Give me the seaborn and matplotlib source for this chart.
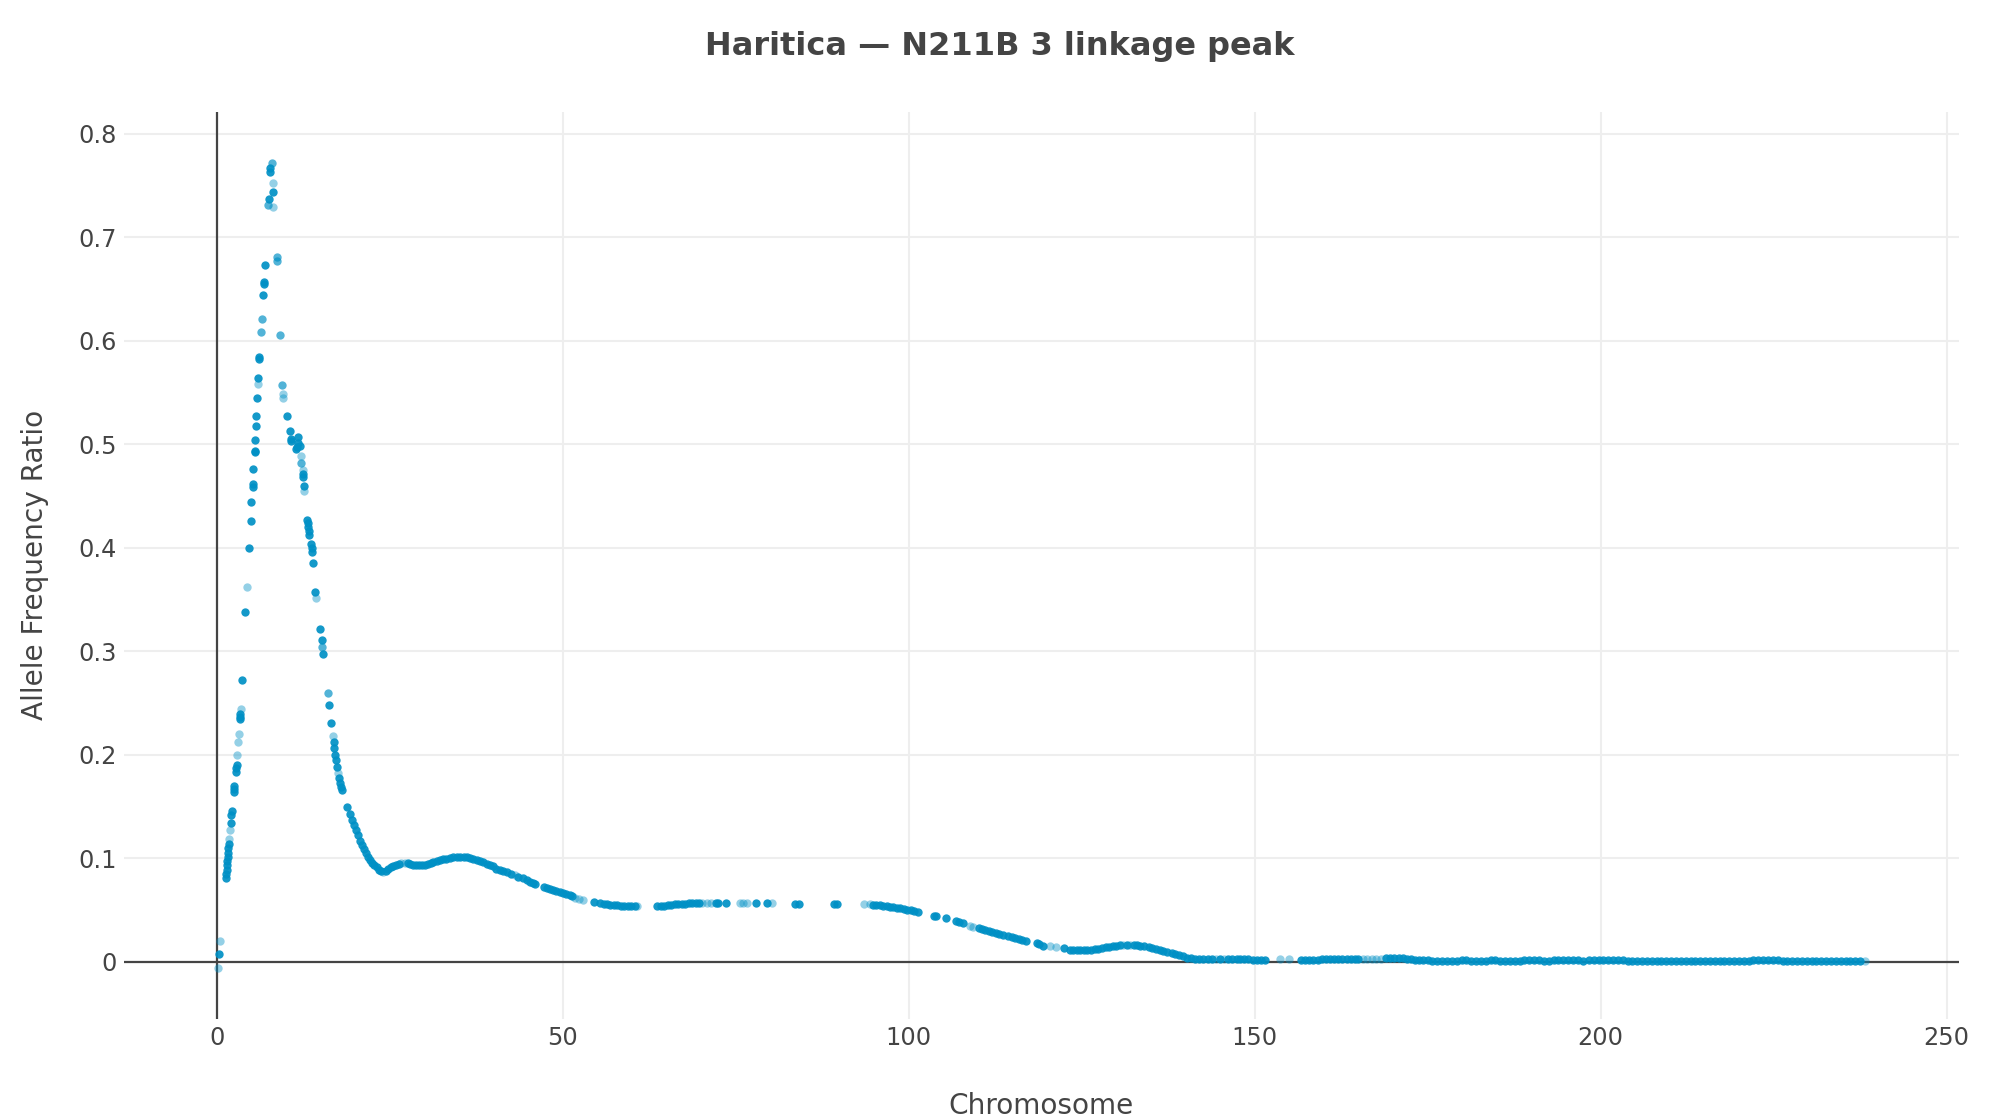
"""
Allele frequency ratio along the chromosome - linkage peak scatter.
"""

###########
# IMPORTS #
###########
import seaborn as sns
import matplotlib.pyplot as plt


########
# DATA #
########

# Peak region (0 - 18 cM), dark points
peak_x = [0.32, 1.33, 1.38, 1.43, 1.48, 1.53, 1.58, 1.63, 1.68, 1.72,
          2.0, 2.12, 2.15, 2.43, 2.45, 2.47, 2.82, 2.85, 2.88, 3.40, 3.42, 3.43,
          3.64, 4.12, 4.65, 4.9, 5.0, 5.18, 5.2, 5.28, 5.5, 5.52, 5.57, 5.69,
          5.71, 5.86, 6.0, 6.15, 6.16, 6.75, 6.78, 6.8, 6.92, 7.5, 7.74, 7.76,
          8.17, 10.1, 10.58, 10.75, 10.78, 11.5, 11.55, 11.78, 11.8, 12.1,
          12.42, 12.45, 12.6, 13.1, 13.15, 13.2, 13.3, 13.4, 13.6, 13.7, 13.8,
          13.85, 14.27, 14.92, 15.16, 15.35, 16.26, 16.5, 16.9, 17.0, 17.1,
          17.2, 17.35, 17.65, 17.8, 17.95, 18.1]
peak_y = [0.0074, 0.081, 0.085, 0.089, 0.093, 0.097, 0.101, 0.105, 0.110, 0.114,
          0.134, 0.142, 0.146, 0.164, 0.167, 0.170, 0.183, 0.187, 0.190, 0.234, 0.236, 0.239,
          0.272, 0.338, 0.400, 0.426, 0.4445, 0.459, 0.462, 0.476, 0.492, 0.4934, 0.504, 0.518,
          0.527, 0.545, 0.564, 0.582, 0.584, 0.644, 0.6545, 0.657, 0.673, 0.737, 0.763, 0.7665,
          0.744, 0.527, 0.513, 0.505, 0.503, 0.495, 0.497, 0.507, 0.501, 0.498,
          0.471, 0.4686, 0.4596, 0.427, 0.424, 0.420, 0.416, 0.412, 0.404, 0.400, 0.396,
          0.3855, 0.3575, 0.321, 0.311, 0.2973, 0.248, 0.231, 0.212, 0.206, 0.200,
          0.195, 0.188, 0.177, 0.173, 0.169, 0.166]

# Peak region, half-transparent points
mid_x = [6.4, 6.49, 7.4, 7.98, 8.67, 8.7, 9.14, 9.47, 12.25, 15.2, 16.03]
mid_y = [0.608, 0.621, 0.731, 0.772, 0.681, 0.677, 0.606, 0.5575, 0.4815, 0.3043, 0.2593]

# Shoulder (19 - 46 cM)
shoulder_x = [18.9, 19.2, 19.5, 19.8, 20.1, 20.4, 20.7, 21.0, 21.3, 21.6, 21.9, 22.2,
              22.5, 22.8, 23.1, 23.4, 23.7, 24.4, 24.8, 25.2, 25.5, 25.9, 26.3, 27.6,
              28.0, 28.4, 28.8, 29.2, 29.6, 30.1, 30.5, 30.9, 31.3, 31.8, 32.2, 32.7,
              33.2, 33.7, 34.2, 34.7, 35.2, 35.7, 36.2, 36.6, 37.1, 37.6, 38.05, 38.5,
              39.0, 39.5, 39.97, 40.4, 40.9, 41.4, 41.9, 42.5, 43.6, 44.3, 44.8, 45.3,
              45.7, 46.0]
shoulder_y = [0.149, 0.143, 0.137, 0.132, 0.127, 0.122, 0.117, 0.113, 0.109, 0.105, 0.101, 0.098,
              0.095, 0.093, 0.091, 0.089, 0.088, 0.088, 0.090, 0.091, 0.092, 0.093, 0.094, 0.095,
              0.094, 0.093, 0.093, 0.093, 0.093, 0.093, 0.094, 0.095, 0.096, 0.097, 0.098, 0.099,
              0.0995, 0.100, 0.101, 0.1015, 0.1015, 0.1015, 0.101, 0.100, 0.099, 0.098, 0.097, 0.096,
              0.094, 0.093, 0.092, 0.090, 0.089, 0.088, 0.087, 0.085, 0.082, 0.081, 0.079, 0.077,
              0.076, 0.075]

# Plateau (47 - 90 cM)
plateau_x = [47.3, 47.7, 48.2, 48.6, 49.1, 49.6, 50.0, 50.5, 51.0, 51.3, 54.5, 55.4,
             55.9, 56.4, 56.9, 57.4, 57.9, 58.4, 58.9, 59.4, 59.9, 60.4, 63.7, 64.2,
             64.7, 65.2, 65.7, 66.2, 66.7, 67.2, 67.7, 68.2, 68.7, 69.2, 69.7, 72.1,
             72.5, 73.6, 77.9, 79.6, 83.6, 84.1, 89.2, 89.6]
plateau_y = [0.072, 0.071, 0.070, 0.069, 0.068, 0.067, 0.066, 0.065, 0.064, 0.063, 0.058, 0.0565,
             0.056, 0.0557, 0.055, 0.0548, 0.0545, 0.054, 0.054, 0.0538, 0.0538, 0.0538, 0.0538, 0.054,
             0.0542, 0.0545, 0.055, 0.0553, 0.0556, 0.056, 0.0562, 0.0565, 0.0567, 0.0568, 0.057, 0.057,
             0.057, 0.057, 0.057, 0.057, 0.056, 0.056, 0.0557, 0.0557]

# Decline and second bump (94 - 140 cM)
decline_x = [94.8, 95.3, 95.8, 96.3, 96.8, 97.3, 97.8, 98.3, 98.8, 99.3, 99.8, 100.3,
             100.8, 101.3, 103.6, 104.0, 105.4, 106.9, 107.3, 107.8, 110.1, 110.6, 111.1, 111.6,
             112.1, 112.6, 113.1, 113.6, 114.4, 114.9, 115.4, 115.9, 116.4, 116.9, 118.5, 118.9,
             119.4, 122.4, 123.3, 123.8, 124.3, 124.8, 125.3, 125.8, 126.3, 126.9, 127.4, 127.9,
             128.5, 129.0, 129.5, 130.0, 130.5, 131.5, 132.5, 133.0, 133.5, 134.0, 134.7, 135.2,
             135.7, 136.3, 136.8, 137.4, 138.0, 138.5, 139.0, 139.6]
decline_y = [0.0550, 0.0546, 0.0543, 0.054, 0.0535, 0.053, 0.0525, 0.052, 0.0515, 0.051, 0.050, 0.0495,
             0.049, 0.048, 0.0445, 0.044, 0.042, 0.039, 0.0385, 0.037, 0.0325, 0.032, 0.031, 0.030,
             0.029, 0.028, 0.027, 0.026, 0.0245, 0.0235, 0.0225, 0.022, 0.021, 0.020, 0.018, 0.017,
             0.0155, 0.013, 0.0115, 0.011, 0.011, 0.011, 0.011, 0.0112, 0.0115, 0.012, 0.0125, 0.013,
             0.014, 0.0145, 0.015, 0.0155, 0.016, 0.0165, 0.0163, 0.016, 0.0155, 0.015, 0.0145, 0.0135,
             0.0125, 0.0113, 0.010, 0.009, 0.008, 0.007, 0.006, 0.005]

# Tail near zero (140 - 175 cM)
tail_x = [140.2, 140.8, 141.4, 142.0, 142.6, 143.2, 143.8, 145.0, 146.2, 146.8, 147.4, 147.9,
          148.5, 149.1, 149.7, 150.3, 150.9, 151.5, 156.7, 157.3, 157.9, 158.5, 159.1, 159.7,
          160.3, 160.9, 161.5, 162.1, 162.7, 163.3, 163.9, 164.5, 165.0, 169.0, 169.6, 170.2,
          170.8, 171.4, 172.0, 172.6, 173.2, 173.8, 174.4]
tail_y = [0.004, 0.0033, 0.003, 0.0027, 0.0025, 0.0025, 0.0025, 0.0025, 0.0025, 0.0022, 0.0022, 0.0022,
          0.0022, 0.0022, 0.002, 0.002, 0.002, 0.0018, 0.002, 0.002, 0.002, 0.002, 0.002, 0.0022,
          0.0022, 0.0025, 0.0025, 0.0028, 0.003, 0.003, 0.0028, 0.0025, 0.0025, 0.0035, 0.004, 0.004,
          0.0038, 0.0035, 0.003, 0.0025, 0.002, 0.0015, 0.0012]

# Flat end (175 - 238 cM)
end_x = [175.0, 175.7, 176.4, 177.1, 177.8, 178.5, 179.2, 179.9, 180.6, 181.3, 182.0, 182.7,
         183.4, 184.1, 184.8, 185.5, 186.2, 186.9, 187.6, 188.3, 189.0, 189.7, 190.4, 191.1,
         191.8, 192.5, 193.2, 193.9, 194.6, 195.3, 196.0, 196.7, 197.4, 198.3, 199.0, 199.7,
         200.4, 201.1, 201.8, 202.5, 203.2, 203.9, 204.6, 205.3, 206.0, 206.7, 207.4, 208.1,
         208.8, 209.5, 210.2, 210.9, 211.6, 212.3, 213.0, 213.7, 214.4, 215.1, 215.8, 216.5,
         217.2, 217.9, 218.6, 219.3, 220.0, 220.7, 221.4, 222.1, 222.8, 223.5, 224.2, 224.9,
         225.6, 226.3, 227.0, 227.7, 228.4, 229.1, 229.8, 230.5, 231.2, 231.9, 232.6, 233.3,
         234.0, 234.7, 235.4, 236.1, 236.8, 237.5]
end_y = [0.0012, 0.001, 0.001, 0.0008, 0.0008, 0.001, 0.001, 0.0012, 0.0012, 0.001, 0.0008, 0.0008,
         0.001, 0.0012, 0.0012, 0.001, 0.001, 0.0008, 0.0008, 0.001, 0.0012, 0.0015, 0.0015, 0.0012,
         0.001, 0.001, 0.0012, 0.0015, 0.0015, 0.0015, 0.0012, 0.0012, 0.001, 0.0015, 0.0015, 0.0015,
         0.0015, 0.0015, 0.0012, 0.0012, 0.0012, 0.001, 0.001, 0.001, 0.001, 0.0008, 0.0008, 0.0008,
         0.0008, 0.0008, 0.0006, 0.0006, 0.0006, 0.0006, 0.0006, 0.0008, 0.0008, 0.0008, 0.0006, 0.0006,
         0.0006, 0.0008, 0.0008, 0.001, 0.001, 0.001, 0.001, 0.0012, 0.0012, 0.0012, 0.0012, 0.0012,
         0.0012, 0.001, 0.001, 0.001, 0.001, 0.001, 0.0008, 0.0008, 0.0008, 0.0008, 0.0008, 0.0006,
         0.0006, 0.0006, 0.0006, 0.0005, 0.0005, 0.0005]

# Faint single markers
light_x = [0.17, 0.5, 1.82, 1.9, 2.92, 3.1, 3.16, 3.45, 4.32, 5.96, 8.17, 8.2, 9.55, 9.57,
           12.2, 12.4, 12.65, 14.3, 16.8, 17.5, 24.07, 26.7, 27.2, 43.1, 51.8, 52.4, 53.0,
           60.8, 70.2, 70.8, 71.4, 75.6, 76.1, 76.7, 80.3, 93.6, 94.4, 108.8, 109.3, 120.5,
           121.3, 131.0, 132.0, 144.4, 145.6, 153.6, 154.9, 165.7, 166.3, 167.0, 167.6, 168.2,
           238.2]
light_y = [-0.006, 0.020, 0.119, 0.127, 0.200, 0.212, 0.220, 0.244, 0.362, 0.558, 0.752, 0.729, 0.5485, 0.545,
           0.4886, 0.475, 0.455, 0.3517, 0.218, 0.182, 0.087, 0.095, 0.095, 0.084, 0.062, 0.061, 0.060,
           0.0538, 0.057, 0.057, 0.057, 0.057, 0.057, 0.057, 0.057, 0.0557, 0.0555, 0.034, 0.0335, 0.0147,
           0.0145, 0.0163, 0.0165, 0.0025, 0.0025, 0.0022, 0.0022, 0.0025, 0.0025, 0.0025, 0.0025, 0.0025,
           0.0006]

x_ticks = [0, 50, 100, 150, 200, 250]
y_ticks = [0, 0.1, 0.2, 0.3, 0.4, 0.5, 0.6, 0.7, 0.8]
y_tick_labels = ['0', '0.1', '0.2', '0.3', '0.4', '0.5', '0.6', '0.7', '0.8']

TITLE = 'Haritica \u2014 N211B 3 linkage peak'
MARKER_COLOR = '#0090c5'
TEXT_COLOR = '#444444'


#########
# PLOTS #
#########

sns.set_style('white')
plt.rcParams['font.family'] = ['DejaVu Sans']

fig = plt.figure(figsize=(20, 11.2), dpi=100)
ax = fig.add_axes([124 / 2000, 1 - 1019 / 1120, 1835 / 2000, 907 / 1120])

dark_x = peak_x + shoulder_x + plateau_x + decline_x + tail_x + end_x
dark_y = peak_y + shoulder_y + plateau_y + decline_y + tail_y + end_y

# Faint markers first, denser ones on top
sns.scatterplot(x=light_x, y=light_y, color=MARKER_COLOR, alpha=0.42, s=36,
                linewidth=0, ax=ax, zorder=3)
sns.scatterplot(x=mid_x, y=mid_y, color=MARKER_COLOR, alpha=0.68, s=36,
                linewidth=0, ax=ax, zorder=3)
sns.scatterplot(x=dark_x, y=dark_y, color=MARKER_COLOR, alpha=0.92, s=36,
                linewidth=0, ax=ax, zorder=3)

# Axis ranges and ticks
ax.set_xlim(-13.4, 251.8)
ax.set_ylim(-0.0554, 0.821)
ax.set_xticks(x_ticks)
ax.set_yticks(y_ticks)
ax.set_yticklabels(y_tick_labels)
ax.tick_params(axis='both', length=0, labelsize=17.3, labelcolor=TEXT_COLOR, pad=5)

# Grid and zero lines
ax.grid(True, color='#eeeeee', linewidth=1.5, zorder=0)
ax.set_axisbelow(True)
ax.axhline(0, color=TEXT_COLOR, linewidth=1.6, zorder=2)
ax.axvline(0, color=TEXT_COLOR, linewidth=1.6, zorder=2)
for side in ax.spines.values():
    side.set_visible(False)

# Labels and title
ax.set_xlabel('')
ax.set_ylabel('')
fig.text(1041 / 2000, 1 - 1106 / 1120, 'Chromosome', ha='center', va='center',
         fontsize=20.2, color=TEXT_COLOR)
fig.text(35 / 2000, 1 - 565 / 1120, 'Allele Frequency Ratio', ha='center', va='center',
         rotation=90, fontsize=20.2, color=TEXT_COLOR)
fig.text(0.5, 1 - 46 / 1120, TITLE, ha='center', va='center', fontsize=23,
         fontweight='bold', color=TEXT_COLOR)

plt.savefig('out.png', dpi=100)
